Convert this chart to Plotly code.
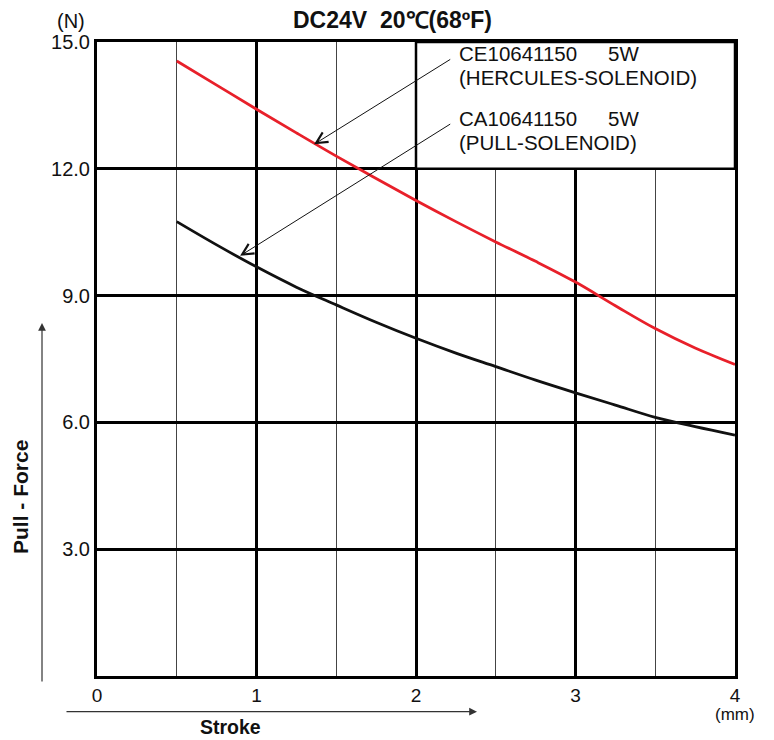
import plotly.graph_objects as go

# ---- data ----
stroke_mm = [0.5, 0.75, 1.0, 1.25, 1.5, 1.75, 2.0, 2.25, 2.5, 2.75, 3.0, 3.25, 3.5, 3.75, 4.0]
hercules_force = [14.55, 13.98, 13.41, 12.85, 12.30, 11.77, 11.25, 10.75, 10.27, 9.81, 9.32, 8.76, 8.22, 7.76, 7.37]
pull_force = [10.75, 10.20, 9.68, 9.20, 8.78, 8.37, 7.99, 7.64, 7.32, 7.00, 6.70, 6.41, 6.12, 5.90, 5.70]

x_ticks = [0, 1, 2, 3, 4]
x_tick_text = ["0", "1", "2", "3", "4"]
y_ticks = [3, 6, 9, 12, 15]
y_tick_text = ["3.0", "6.0", "9.0", "12.0", "15.0"]

FONT = "Liberation Sans, Arial, Helvetica, sans-serif"
TXT = "#111"

fig = go.Figure()
fig.add_trace(go.Scatter(x=stroke_mm, y=hercules_force, mode="lines",
                         line=dict(color="#e8202a", width=2.8, shape="spline"),
                         showlegend=False, hoverinfo="skip"))
fig.add_trace(go.Scatter(x=stroke_mm, y=pull_force, mode="lines",
                         line=dict(color="#111111", width=2.8, shape="spline"),
                         showlegend=False, hoverinfo="skip"))

# white label box in upper right (covers grid)
fig.add_shape(type="rect", xref="x", yref="y", x0=2, x1=4, y0=12, y1=15,
              fillcolor="white", line=dict(color="black", width=2.5), layer="above")

LF = 20.5
ann = []
# legend texts
ann.append(dict(xref="x", yref="y", x=2.255, y=14.72, text="CE10641150", showarrow=False,
                xanchor="left", yanchor="middle", font=dict(size=LF, color=TXT)))
ann.append(dict(xref="x", yref="y", x=3.19, y=14.72, text="5W", showarrow=False,
                xanchor="left", yanchor="middle", font=dict(size=LF, color=TXT)))
ann.append(dict(xref="x", yref="y", x=2.255, y=14.16, text="(HERCULES-SOLENOID)", showarrow=False,
                xanchor="left", yanchor="middle", font=dict(size=LF, color=TXT)))
ann.append(dict(xref="x", yref="y", x=2.255, y=13.18, text="CA10641150", showarrow=False,
                xanchor="left", yanchor="middle", font=dict(size=LF, color=TXT)))
ann.append(dict(xref="x", yref="y", x=3.19, y=13.18, text="5W", showarrow=False,
                xanchor="left", yanchor="middle", font=dict(size=LF, color=TXT)))
ann.append(dict(xref="x", yref="y", x=2.255, y=12.62, text="(PULL-SOLENOID)", showarrow=False,
                xanchor="left", yanchor="middle", font=dict(size=LF, color=TXT)))
# leader arrows
ann.append(dict(xref="x", yref="y", axref="x", ayref="y", x=1.361, y=12.58, ax=2.224, ay=14.61,
                text="", showarrow=True, arrowhead=5, arrowsize=2.2, arrowwidth=1, arrowcolor=TXT))
ann.append(dict(xref="x", yref="y", axref="x", ayref="y", x=0.897, y=9.94, ax=2.224, ay=13.08,
                text="", showarrow=True, arrowhead=5, arrowsize=2.2, arrowwidth=1, arrowcolor=TXT))
# title and unit labels
ann.append(dict(xref="paper", yref="paper", x=0.4624, y=1.034, text="<b>DC24V&nbsp;&nbsp;20℃(68ºF)</b>",
                showarrow=False, xanchor="center", yanchor="middle", font=dict(size=23, color=TXT)))
ann.append(dict(xref="paper", yref="paper", x=-0.0408, y=1.0331, text="(N)",
                showarrow=False, xanchor="center", yanchor="middle", font=dict(size=20, color=TXT)))
ann.append(dict(xref="paper", yref="paper", x=1.0, y=-0.0615, text="(mm)",
                showarrow=False, xanchor="center", yanchor="middle", font=dict(size=17, color=TXT)))
ann.append(dict(xref="paper", yref="paper", x=0.21, y=-0.080, text="<b>Stroke</b>",
                showarrow=False, xanchor="center", yanchor="middle", font=dict(size=19.5, color=TXT)))
ann.append(dict(xref="paper", yref="paper", x=-0.1207, y=0.2823, text="<b>Pull - Force</b>",
                textangle=-90, showarrow=False, xanchor="center", yanchor="middle",
                font=dict(size=21, color=TXT)))
# direction arrows
ann.append(dict(xref="paper", yref="paper", x=0.5956, y=-0.0563, ax=-412, ay=0, text="",
                showarrow=True, arrowhead=2, arrowsize=1.3, arrowwidth=1.2, arrowcolor="#333"))
ann.append(dict(xref="paper", yref="paper", x=-0.0862, y=0.5568, ax=0, ay=360, text="",
                showarrow=True, arrowhead=2, arrowsize=1.3, arrowwidth=1.2, arrowcolor="#333"))

fig.update_layout(
    width=766, height=732,
    margin=dict(l=89, r=39, t=34, b=64),
    plot_bgcolor="white", paper_bgcolor="white",
    font=dict(family=FONT, size=20, color=TXT),
    annotations=ann,
    showlegend=False,
)
fig.update_xaxes(range=[0, 4], tickvals=x_ticks, ticktext=x_tick_text,
                 showline=True, linecolor="black", linewidth=3, mirror=True,
                 showgrid=True, gridcolor="black", gridwidth=2.5,
                 minor=dict(dtick=0.5, tick0=0, showgrid=True, gridcolor="#444", gridwidth=1),
                 ticks="", zeroline=False, tickfont=dict(size=19))
fig.update_yaxes(range=[0, 15], tickvals=y_ticks, ticktext=y_tick_text,
                 showline=True, linecolor="black", linewidth=3, mirror=True,
                 showgrid=True, gridcolor="black", gridwidth=2.5,
                 ticks="", zeroline=False, tickfont=dict(size=20))

fig.write_html("out.html")
